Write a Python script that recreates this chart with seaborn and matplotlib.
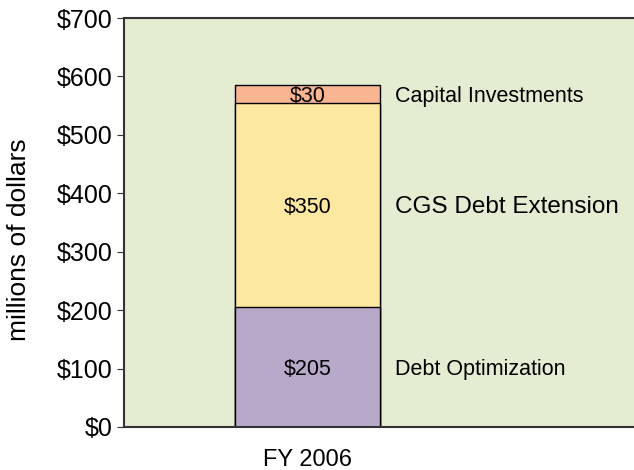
import seaborn as sns
from matplotlib import pyplot as plt
import pandas as pd
import numpy as np

year = ["FY 2006"]
components = ["Debt Optimization", "CGS Debt Extension", "Capital Investments"]
amounts = [205, 350, 30]
colors = ["#B8A9CB", "#FCE8A0", "#F9B592"]

sns.set_style("white")
plt.rcParams['font.family'] = ['Liberation Sans', 'DejaVu Sans']
plt.rcParams['text.color'] = 'black'
plt.rcParams['axes.labelcolor'] = 'black'
plt.rcParams['xtick.color'] = 'black'
plt.rcParams['ytick.color'] = 'black'

fig = plt.figure(figsize=(6.34, 4.70), dpi=100)
ax = fig.add_axes([0.1956, 0.0915, 0.8044, 0.8702])
ax.set_facecolor("#E4EDD2")

tops = np.cumsum(amounts)
# draw the tallest stack first so the lower segments sit on top of it
for i in reversed(range(len(amounts))):
    df = pd.DataFrame({"year": year, "value": [tops[i]]})
    sns.barplot(data=df, x="year", y="value", color=colors[i],
                edgecolor="black", linewidth=1, width=0.8, saturation=1, ax=ax)

bottoms = tops - np.array(amounts)
label_sizes = [15.5, 17.5, 15.5]
for i, (amt, name) in enumerate(zip(amounts, components)):
    mid = bottoms[i] + amt / 2
    ax.text(0, mid, f"${amt}", ha="center", va="center_baseline", fontsize=15.5)
    ax.text(0.482, mid, name, ha="left", va="center_baseline", fontsize=label_sizes[i])

ax.set_xlim(-1.015, 1.8)
ax.set_ylim(0, 700)
ax.set_yticks(range(0, 701, 100))
ax.set_yticklabels([f"${v}" for v in range(0, 701, 100)])
ax.tick_params(axis="y", labelsize=18, length=5, left=True, color="#333333")
ax.tick_params(axis="x", labelsize=17, length=0, pad=16)
ax.set_xlabel("")
ax.set_ylabel("millions of dollars", fontsize=19)
ax.yaxis.set_label_coords(-0.183, 0.457)

for side in ["left", "top", "bottom"]:
    ax.spines[side].set_visible(True)
    ax.spines[side].set_color("#333333")
    ax.spines[side].set_linewidth(1.5)
ax.spines["right"].set_visible(False)

fig.savefig("out.png", dpi=100)
